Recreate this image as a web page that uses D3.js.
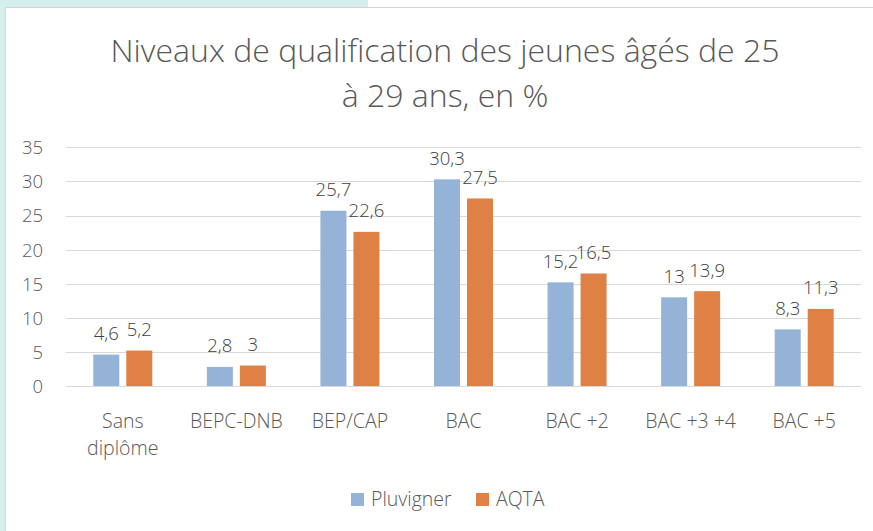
<!DOCTYPE html>
<html>
<head>
<meta charset="utf-8">
<script src="https://cdn.jsdelivr.net/npm/d3@7"></script>
<style>
  html, body { margin: 0; padding: 0; background: #ffffff; }
  svg { display: block; }
  text { font-family: "Open Sans", "Noto Sans", sans-serif; }
</style>
</head>
<body>
<svg id="chart" width="873" height="531"></svg>
<script>
const categories = [["Sans", "diplôme"], ["BEPC-DNB"], ["BEP/CAP"], ["BAC"], ["BAC +2"], ["BAC +3 +4"], ["BAC +5"]];
const seriesNames = ["Pluvigner", "AQTA"];
const pluvigner = [4.6, 2.8, 25.7, 30.3, 15.2, 13, 8.3];
const aqta = [5.2, 3, 22.6, 27.5, 16.5, 13.9, 11.3];
const yTicks = [0, 5, 10, 15, 20, 25, 30, 35];
const titleLines = ["Niveaux de qualification des jeunes âgés de 25", "à 29 ans, en %"];
const colors = ["#95b3d6", "#df8044"];

(function () {
const W = 873, H = 531;
const svg = d3.select("#chart");

// background frame
svg.append("rect").attr("x", 0).attr("y", 0).attr("width", 368).attr("height", 8).attr("fill", "#d5efee");
svg.append("rect").attr("x", 0).attr("y", 0).attr("width", 5).attr("height", H).attr("fill", "#d5efee");
svg.append("line").attr("x1", 5).attr("x2", W).attr("y1", 7.5).attr("y2", 7.5).attr("stroke", "#d4d4d4");
svg.append("line").attr("x1", 5.5).attr("x2", 5.5).attr("y1", 7).attr("y2", H).attr("stroke", "#d4d4d4");

const pl = 66, pr = 861, pt = 147.3, pb = 386;
const x = d3.scaleBand().domain(d3.range(categories.length)).range([pl, pr]).padding(0);
const y = d3.scaleLinear().domain([0, 35]).range([pb, pt]);

// gridlines
svg.append("g").selectAll("line").data(yTicks).join("line")
  .attr("x1", pl).attr("x2", pr)
  .attr("y1", d => Math.round(y(d)) + 0.5).attr("y2", d => Math.round(y(d)) + 0.5)
  .attr("stroke", "#d9d9d9").attr("stroke-width", 1.2);

// y axis labels
const yAxis = d3.axisLeft(y).tickValues(yTicks).tickSize(0).tickPadding(0).tickFormat(d3.format("d"));
const yg = svg.append("g").attr("transform", `translate(${pl - 23},0)`).call(yAxis);
yg.select(".domain").remove();
yg.selectAll("text").attr("fill", "#595959").style("font-size", "18.5px").style("font-weight", 300)
  .attr("dy", "0.35em");

// bars
const barW = 26, gap = 7;
const series = [pluvigner, aqta];
series.forEach((vals, si) => {
  const g = svg.append("g");
  const xOff = si === 0 ? -(gap / 2 + barW) : gap / 2;
  g.selectAll("rect").data(vals).join("rect")
    .attr("x", (d, i) => x(i) + x.bandwidth() / 2 + xOff)
    .attr("y", d => y(d))
    .attr("width", barW)
    .attr("height", d => y(0) - y(d))
    .attr("fill", colors[si]);
  g.selectAll("text").data(vals).join("text")
    .attr("x", (d, i) => x(i) + x.bandwidth() / 2 + xOff + barW / 2)
    .attr("y", d => y(d) - 14.5)
    .attr("text-anchor", "middle")
    .attr("fill", "#404040")
    .style("font-size", "18.5px").style("font-weight", 300)
    .text(d => String(d).replace(".", ","));
});

// x axis labels
const xl = svg.append("g").selectAll("text").data(categories).join("text")
  .attr("text-anchor", "middle")
  .attr("fill", "#595959")
  .style("font-size", "19.5px").style("font-weight", 300);
xl.each(function(lines, i) {
  const t = d3.select(this);
  lines.forEach((ln, k) => {
    t.append("tspan").attr("x", x(i) + x.bandwidth() / 2).attr("y", 428 + k * 27).text(ln);
  });
});

// title
svg.append("g").selectAll("text").data(titleLines).join("text")
  .attr("x", 445).attr("y", (d, i) => 62 + i * 45)
  .attr("text-anchor", "middle").attr("fill", "#595959")
  .style("font-size", "32px").style("font-weight", 300)
  .text(d => d);

// legend
const legX = [351, 476];
const lg = svg.append("g");
seriesNames.forEach((n, i) => {
  lg.append("rect").attr("x", legX[i]).attr("y", 493).attr("width", 13).attr("height", 13).attr("fill", colors[i]);
  lg.append("text").attr("x", legX[i] + 20).attr("y", 506).attr("fill", "#595959")
    .style("font-size", "19.5px").style("font-weight", 300).text(n);
});
})();
</script>
</body>
</html>
